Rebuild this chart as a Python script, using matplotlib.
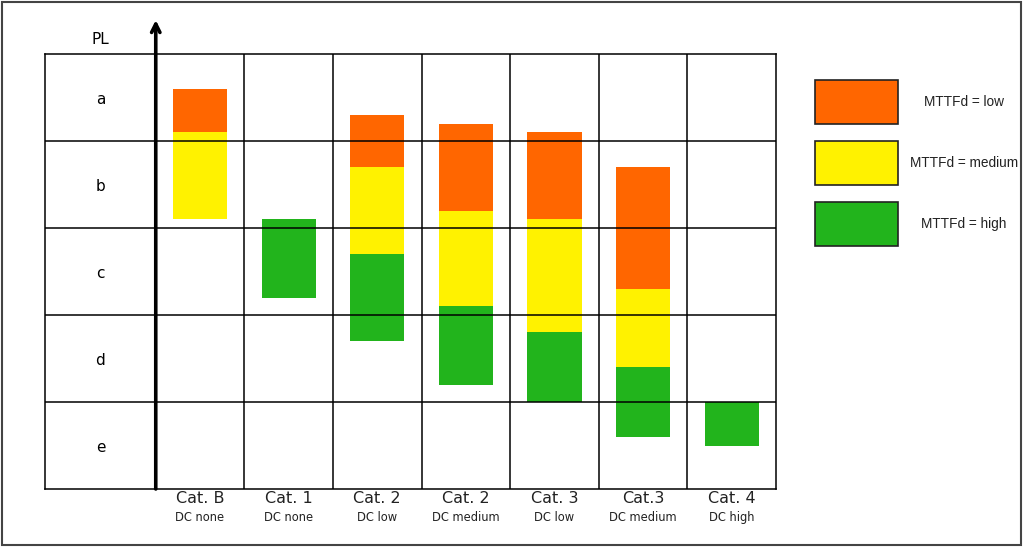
import matplotlib.pyplot as plt
from matplotlib.patches import Rectangle

# Datos (niveles PL: e=0..1, d=1..2, c=2..3, b=3..4, a=4..5)
categories = ['Cat. B', 'Cat. 1', 'Cat. 2', 'Cat. 2', 'Cat. 3', 'Cat.3', 'Cat. 4']
dc_levels = ['DC none', 'DC none', 'DC low', 'DC medium', 'DC low', 'DC medium', 'DC high']
pl_levels = ['e', 'd', 'c', 'b', 'a']

# (inicio, fin) de cada franja de MTTFd
mttf_low = [(4.1, 4.6), None, (3.7, 4.3), (3.2, 4.2), (3.1, 4.1), (2.3, 3.7), None]
mttf_medium = [(3.1, 4.1), None, (2.7, 3.7), (2.1, 3.2), (1.8, 3.1), (1.4, 2.3), None]
mttf_high = [None, (2.2, 3.1), (1.7, 2.7), (1.2, 2.1), (1.0, 1.8), (0.6, 1.4), (0.5, 1.0)]

legend_labels = ['MTTFd = low', 'MTTFd = medium', 'MTTFd = high']
colors = ['#ff6600', '#fff200', '#22b41c']

W, H = 1024, 548
fig = plt.figure(figsize=(W / 100, H / 100), dpi=100)

# capa de fondo en pixeles (marco y leyenda)
bg = fig.add_axes([0, 0, 1, 1])
bg.set_xlim(0, W)
bg.set_ylim(H, 0)
bg.axis('off')
bg.add_patch(Rectangle((2, 2), W - 5, H - 5, fill=False, edgecolor='#444444', lw=1.5))

# ejes principales
left, right, top, bottom = 45, 776, 54, 489
ax = fig.add_axes([left / W, (H - bottom) / H, (right - left) / W, (bottom - top) / H])
ax.set_xlim(-1.25, 7)
ax.set_ylim(0, 5)
ax.set_xticks([])
ax.set_yticks([])
for s in ax.spines.values():
    s.set_linewidth(1.1)
    s.set_zorder(5)

x = list(range(len(categories)))
for series, c in zip([mttf_low, mttf_medium, mttf_high], colors):
    for i, seg in enumerate(series):
        if seg is None:
            continue
        ax.bar(i + 0.5, seg[1] - seg[0], bottom=seg[0], width=0.61, color=c, zorder=2)

# rejilla
for k in range(1, 5):
    ax.axhline(k, color='black', lw=1.1, zorder=4)
for k in range(1, 7):
    ax.axvline(k, color='black', lw=1.1, zorder=4)

# eje con flecha
ax.annotate('', xy=(0, 5.39), xytext=(0, 0), annotation_clip=False,
            arrowprops=dict(arrowstyle='->', lw=2.6, color='black', mutation_scale=15,
                            shrinkA=0, shrinkB=0), zorder=6)

# etiquetas PL
for k, lab in enumerate(pl_levels):
    ax.text(-0.625, k + 0.48, lab, ha='center', va='center', fontsize=11, family='DejaVu Sans')
ax.text(-0.625, 5.17, 'PL', ha='center', va='center', fontsize=11, family='DejaVu Sans',
        clip_on=False)

# etiquetas de categoria
for i in x:
    ax.text(i + 0.5, -0.11, categories[i], ha='center', va='center', fontsize=11.5,
            family='DejaVu Sans', color='#222222', clip_on=False)
    ax.text(i + 0.5, -0.33, dc_levels[i], ha='center', va='center', fontsize=8.3,
            family='DejaVu Sans', color='#222222', clip_on=False)

# leyenda
for j, (lab, c) in enumerate(zip(legend_labels, colors)):
    y0 = 80 + j * 61
    bg.add_patch(Rectangle((815, y0), 83, 44, facecolor=c, edgecolor='#222222', lw=1.2))
    bg.text(964, y0 + 22, lab, ha='center', va='center', fontsize=9.8,
            family='Liberation Sans', color='#222222')

fig.savefig('out.png', dpi=100)
